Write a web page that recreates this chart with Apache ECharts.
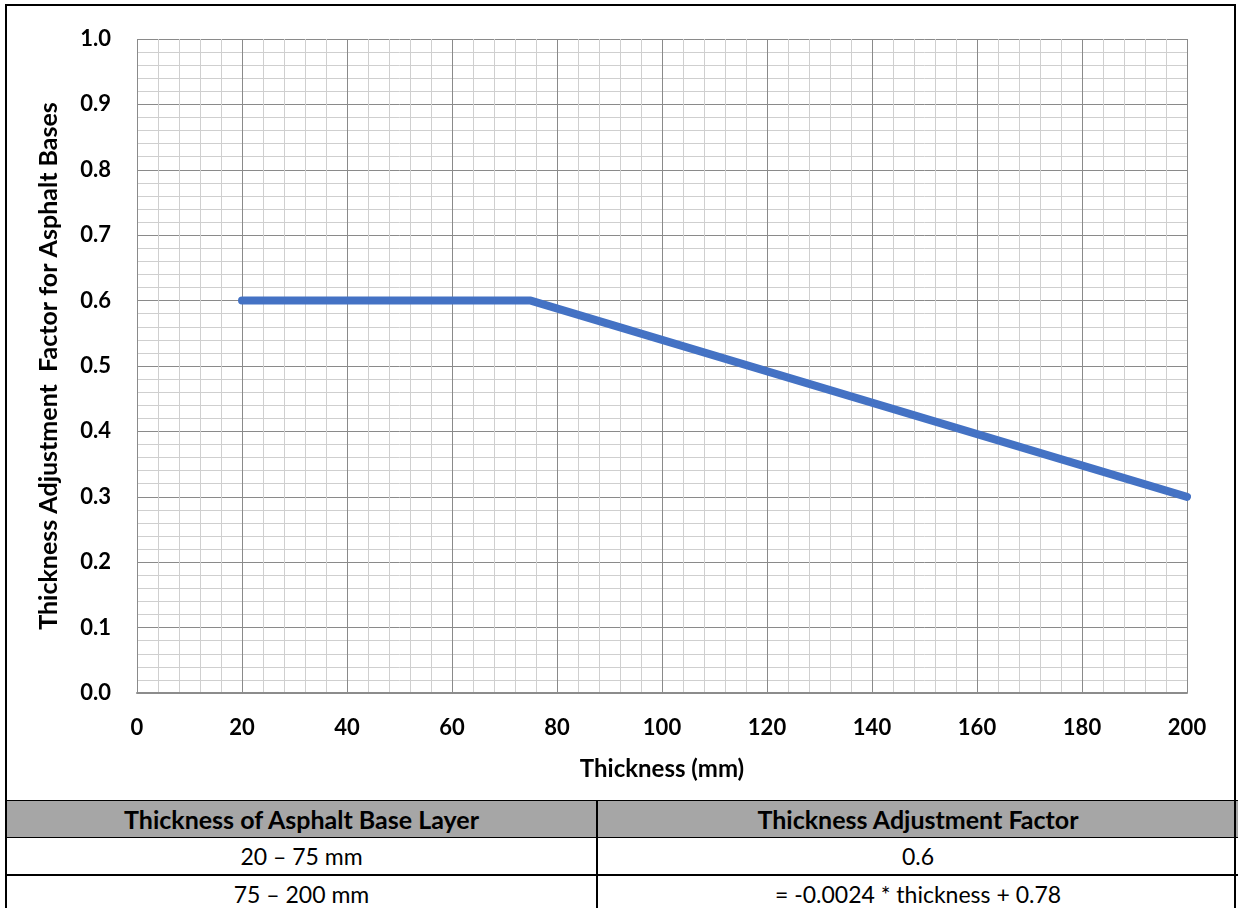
<!DOCTYPE html>
<html>
<head>
<meta charset="utf-8">
<script src="https://cdn.jsdelivr.net/npm/echarts@6/dist/echarts.min.js"></script>
<style>
  html, body { margin: 0; padding: 0; background: #fff; }
  #wrap { position: relative; width: 1240px; height: 908px; overflow: hidden; background: #fff; }
  #frame { position: absolute; left: 5px; top: 4px; width: 1231px; height: 1000px; border: 2.5px solid #000; box-sizing: border-box; }
  #chart { position: absolute; left: 0; top: 0; width: 1240px; height: 800px; }
  #tbl { position: absolute; left: 7px; top: 800px; width: 1231px; border-collapse: collapse; font-family: Lato, "Open Sans", sans-serif; font-size: 23px; color: #000; table-layout: fixed; }
  #tbl th { background: #a6a6a6; font-weight: bold; font-size: 25px; height: 36px; padding: 0; border-top: 1.5px solid #000; border-bottom: 1.5px solid #000; }
  #tbl td { height: 36px; padding: 0; text-align: center; border-bottom: 2.5px solid #000; }
  #tbl th:first-child, #tbl td:first-child { border-right: 2.5px solid #000; }
</style>
</head>
<body>
<div id="wrap">
  <div id="chart"></div>
  <table id="tbl"><colgroup><col style="width:590px"><col></colgroup><thead></thead><tbody></tbody></table>
  <div id="frame"></div>
</div>
<script>
// ---- data ----
const thickness = [20, 75, 200];
const factor = [0.6, 0.6, 0.3];
const xAxisTitle = 'Thickness (mm)';
const yAxisTitle = 'Thickness Adjustment  Factor for Asphalt Bases';
const tableHeaders = ['Thickness of Asphalt Base Layer', 'Thickness Adjustment Factor'];
const tableRangeCol = ['20 \u2013 75 mm', '75 \u2013 200 mm'];
const tableFactorCol = ['0.6', '= -0.0024 * thickness + 0.78'];

// ---- table ----
const thead = document.querySelector('#tbl thead');
const hr = document.createElement('tr');
tableHeaders.forEach(h => { const th = document.createElement('th'); th.textContent = h; hr.appendChild(th); });
thead.appendChild(hr);
const tbody = document.querySelector('#tbl tbody');
tableRangeCol.forEach((r, i) => {
  const tr = document.createElement('tr');
  [r, tableFactorCol[i]].forEach(v => { const td = document.createElement('td'); td.textContent = v; tr.appendChild(td); });
  tbody.appendChild(tr);
});

// ---- chart ----
const chart = echarts.init(document.getElementById('chart'), null, { renderer: 'canvas' });
const font = 'Lato, "Open Sans", sans-serif';
chart.setOption({
  animation: false,
  backgroundColor: 'transparent',
  grid: { left: 137, right: 53, top: 39, bottom: 107, containLabel: false },
  xAxis: {
    type: 'value', min: 0, max: 200, interval: 20,
    name: xAxisTitle, nameLocation: 'middle', nameGap: 64,
    nameTextStyle: { fontFamily: font, fontWeight: 'bold', fontSize: 24, color: '#000' },
    axisLine: { show: true, lineStyle: { color: '#8c8c8c', width: 2 } },
    axisTick: { show: false },
    minorTick: { show: false, splitNumber: 5 },
    axisLabel: { fontFamily: font, fontWeight: 'bold', fontSize: 22, color: '#000', margin: 24 },
    splitLine: { show: true, lineStyle: { color: '#8a8a8a', width: 1 } },
    minorSplitLine: { show: true, lineStyle: { color: '#cfcfcf', width: 1 } }
  },
  yAxis: {
    type: 'value', min: 0, max: 1, interval: 0.1,
    name: yAxisTitle, nameLocation: 'middle', nameGap: 76, nameRotate: 90,
    nameTextStyle: { fontFamily: font, fontWeight: 'bold', fontSize: 25, color: '#000' },
    axisLine: { show: false },
    axisTick: { show: false },
    minorTick: { show: false, splitNumber: 5 },
    axisLabel: { fontFamily: font, fontWeight: 'bold', fontSize: 22, color: '#000', margin: 26,
      formatter: v => v.toFixed(1) },
    splitLine: { show: true, lineStyle: { color: '#8a8a8a', width: 1 } },
    minorSplitLine: { show: true, lineStyle: { color: '#cfcfcf', width: 1 } }
  },
  series: [{
    type: 'line',
    data: thickness.map((t, i) => [t, factor[i]]),
    showSymbol: false,
    lineStyle: { color: '#4472C4', width: 8, cap: 'round', join: 'round' },
    z: 5
  }]
});
</script>
</body>
</html>
